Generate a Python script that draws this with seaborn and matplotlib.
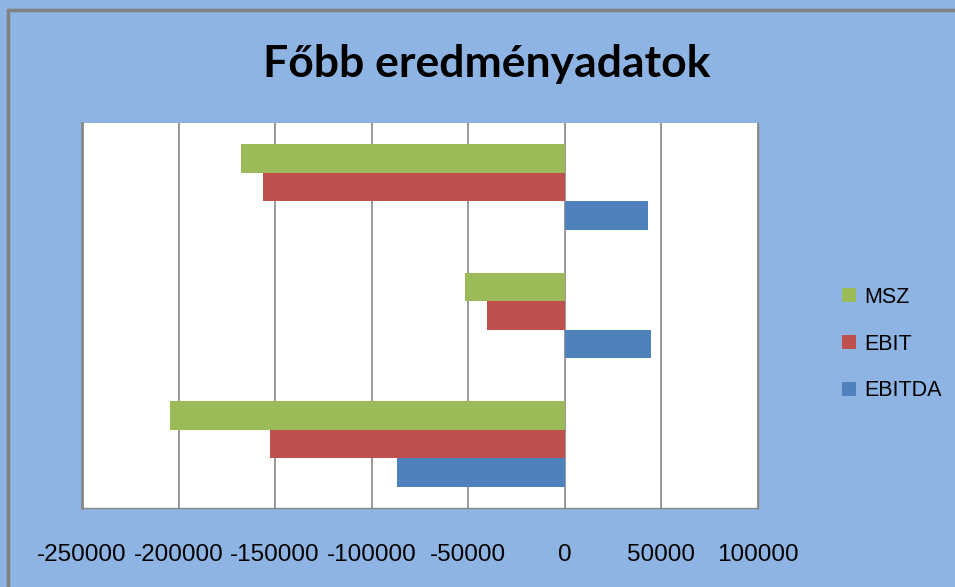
import matplotlib
matplotlib.use("Agg")
import matplotlib.pyplot as plt
import seaborn as sns
import pandas as pd

# Chart data
categories = ["1", "2", "3"]
series = ["MSZ", "EBIT", "EBITDA"]
msz = [-167500, -51500, -204500]
ebit = [-156500, -40300, -152500]
ebitda = [42900, 44400, -86800]
colors = ["#9BBB59", "#C0504D", "#4F81BD"]
xticks = [-250000, -200000, -150000, -100000, -50000, 0, 50000, 100000]

df = pd.DataFrame({
    "cat": categories * 3,
    "series": ["MSZ"] * 3 + ["EBIT"] * 3 + ["EBITDA"] * 3,
    "value": msz + ebit + ebitda,
})

sns.set_style("white")
plt.rcParams["font.family"] = ["Liberation Sans", "DejaVu Sans"]
plt.rcParams["axes.unicode_minus"] = False
plt.rcParams["text.color"] = "black"
plt.rcParams["xtick.color"] = "black"

bg = "#8EB4E3"
fig = plt.figure(figsize=(9.55, 5.87), dpi=100, facecolor=bg)

# outer frame of the chart (left and top edges visible)
fig.add_artist(plt.Line2D([8 / 955, 8 / 955], [0, 1 - 10 / 587], color="#808080", lw=2.5,
                          transform=fig.transFigure))
fig.add_artist(plt.Line2D([8 / 955, 1], [1 - 10 / 587, 1 - 10 / 587], color="#808080", lw=2.5,
                          transform=fig.transFigure))

ax = fig.add_axes([82 / 955, 1 - 508 / 587, (758 - 82) / 955, (508 - 123) / 587])
ax.set_facecolor("white")

sns.barplot(data=df, y="cat", x="value", hue="series", hue_order=series,
            palette=colors, orient="h", width=0.67, saturation=1,
            edgecolor="none", ax=ax)

ax.set_xlim(-250000, 100000)
ax.set_xticks(xticks)
ax.set_xticklabels([str(t) for t in xticks], fontsize=17.5)
ax.tick_params(axis="x", length=0, pad=26)
ax.set_yticks([])
ax.set_xlabel("")
ax.set_ylabel("")
ax.set_axisbelow(True)
ax.grid(axis="x", color="#868686", lw=1.2)

ax.spines["top"].set_visible(False)
ax.spines["left"].set_color("#868686")
ax.spines["left"].set_linewidth(2)
for s in ["right", "bottom"]:
    ax.spines[s].set_color("#868686")
    ax.spines[s].set_linewidth(1)

ax.legend(loc="center left", bbox_to_anchor=(842 / 955, 1 - 344 / 587),
          bbox_transform=fig.transFigure, frameon=False, fontsize=15.5,
          handlelength=0.65, handleheight=0.65, handletextpad=0.4,
          labelspacing=1.2, borderpad=0, borderaxespad=0)

fig.text(487 / 955, 1 - 64 / 587, "Főbb eredményadatok", ha="center", va="center",
         fontsize=32, fontweight="bold", color="black",
         family=["Lato", "DejaVu Sans"])

fig.savefig("out.png", dpi=100, facecolor=bg)
